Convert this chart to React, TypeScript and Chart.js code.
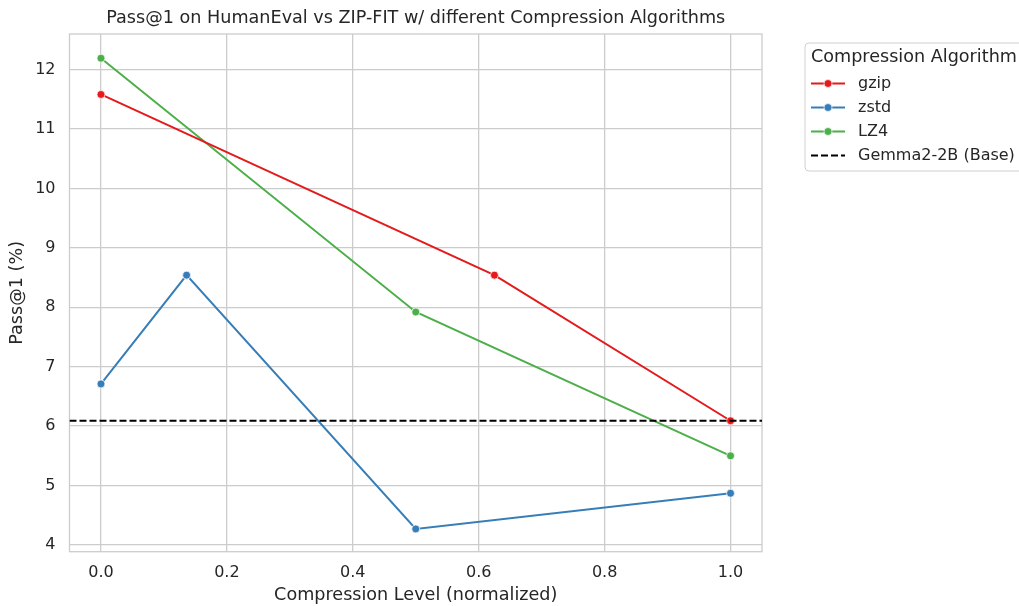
import React, { useEffect, useRef } from "react";
import { Chart, registerables } from "chart.js";

Chart.register(...registerables);

// ---- data ----
const gzipX = [0, 0.625, 1.0];
const gzipY = [11.58, 8.54, 6.09];
const zstdX = [0, 0.136, 0.5, 1.0];
const zstdY = [6.71, 8.54, 4.27, 4.87];
const lz4X = [0, 0.5, 1.0];
const lz4Y = [12.19, 7.92, 5.5];
const baselineValue = 6.09;
const seriesNames = ["gzip", "zstd", "LZ4", "Gemma2-2B (Base)"];
const xTickValues = [0, 0.2, 0.4, 0.6, 0.8, 1.0];
const yTickValues = [4, 5, 6, 7, 8, 9, 10, 11, 12];
const xMin = -0.05;
const xMax = 1.05;
const yMin = 3.887;
const yMax = 12.597;

const TEXT = "#262626";
const GRID = "#cccccc";
const FONT = "'DejaVu Sans', sans-serif";
const colors = ["#e41a1c", "#377eb8", "#4daf4a", "#000000"];

const pts = (xs: number[], ys: number[]) => xs.map((x, i) => ({ x, y: ys[i] }));

const framePlugin = {
  id: "frame",
  beforeDatasetsDraw(chart: any) {
    const { ctx, chartArea: a } = chart;
    ctx.save();
    ctx.strokeStyle = GRID;
    ctx.lineWidth = 1.3;
    ctx.strokeRect(a.left, a.top, a.right - a.left, a.bottom - a.top);
    ctx.restore();
  },
};

const legendPlugin = {
  id: "customLegend",
  afterDraw(chart: any) {
    const { ctx } = chart;
    ctx.save();
    const bx = 805, by = 43, bw = 240, bh = 128, r = 4;
    ctx.beginPath();
    ctx.moveTo(bx + r, by);
    ctx.lineTo(bx + bw - r, by);
    ctx.arcTo(bx + bw, by, bx + bw, by + r, r);
    ctx.lineTo(bx + bw, by + bh - r);
    ctx.arcTo(bx + bw, by + bh, bx + bw - r, by + bh, r);
    ctx.lineTo(bx + r, by + bh);
    ctx.arcTo(bx, by + bh, bx, by + bh - r, r);
    ctx.lineTo(bx, by + r);
    ctx.arcTo(bx, by, bx + r, by, r);
    ctx.closePath();
    ctx.fillStyle = "rgba(255,255,255,0.85)";
    ctx.fill();
    ctx.strokeStyle = "#d0d0d0";
    ctx.lineWidth = 1;
    ctx.stroke();

    ctx.fillStyle = TEXT;
    ctx.textBaseline = "middle";
    ctx.textAlign = "left";
    ctx.font = `17.6px ${FONT}`;
    ctx.fillText("Compression Algorithm", 811, 57);

    const rowY = [83.5, 107.5, 131.5, 155.5];
    ctx.font = `16px ${FONT}`;
    seriesNames.forEach((name, i) => {
      const y = rowY[i];
      ctx.strokeStyle = colors[i];
      ctx.lineWidth = 2;
      if (i === 3) ctx.setLineDash([7, 3]);
      else ctx.setLineDash([]);
      ctx.beginPath();
      ctx.moveTo(811, y);
      ctx.lineTo(845, y);
      ctx.stroke();
      ctx.setLineDash([]);
      if (i < 3) {
        ctx.beginPath();
        ctx.arc(828, y, 4, 0, Math.PI * 2);
        ctx.fillStyle = colors[i];
        ctx.fill();
        ctx.strokeStyle = "#ffffff";
        ctx.lineWidth = 0.75;
        ctx.stroke();
      }
      ctx.fillStyle = TEXT;
      ctx.fillText(name, 858, y);
    });
    ctx.restore();
  },
};

export default function App() {
  const ref = useRef<HTMLCanvasElement>(null);

  useEffect(() => {
    if (!ref.current) return;
    const lineDs = (label: string, data: any[], color: string) => ({
      label,
      data,
      borderColor: color,
      backgroundColor: color,
      borderWidth: 2,
      pointRadius: 4,
      pointBorderColor: "#ffffff",
      pointBorderWidth: 0.75,
      pointBackgroundColor: color,
      tension: 0,
      fill: false,
    });
    const chart = new Chart(ref.current, {
      type: "line",
      data: {
        datasets: [
          {
            label: seriesNames[3],
            data: [
              { x: xMin, y: baselineValue },
              { x: xMax, y: baselineValue },
            ],
            borderColor: colors[3],
            borderWidth: 2,
            borderDash: [7, 3],
            pointRadius: 0,
            fill: false,
            order: 0,
          } as any,
          lineDs(seriesNames[0], pts(gzipX, gzipY), colors[0]),
          lineDs(seriesNames[1], pts(zstdX, zstdY), colors[1]),
          lineDs(seriesNames[2], pts(lz4X, lz4Y), colors[2]),
        ],
      },
      options: {
        animation: false,
        responsive: false,
        devicePixelRatio: 1,
        layout: { padding: { left: 0, top: 0, right: 257, bottom: 0 } },
        plugins: {
          legend: { display: false },
          tooltip: { enabled: false },
          title: {
            display: true,
            fullSize: false,
            text: "Pass@1 on HumanEval vs ZIP-FIT w/ different Compression Algorithms",
            color: TEXT,
            font: { family: FONT, size: 17.6, weight: "normal" },
            padding: { top: 7.4, bottom: 5.5 },
          },
        },
        scales: {
          x: {
            type: "linear",
            min: xMin,
            max: xMax,
            afterBuildTicks: (s: any) => {
              s.ticks = xTickValues.map((v) => ({ value: v }));
            },
            afterFit: (s: any) => {
              s.height = 54.3;
            },
            ticks: {
              callback: (v: any) => Number(v).toFixed(1),
              color: TEXT,
              font: { family: FONT, size: 16 },
              padding: 11.7,
              maxRotation: 0,
            },
            grid: { color: GRID, lineWidth: 1.3, drawTicks: false },
            border: { display: false },
            title: {
              display: true,
              text: "Compression Level (normalized)",
              color: TEXT,
              font: { family: FONT, size: 17.6 },
              padding: { top: 0, bottom: 0 },
            },
          },
          y: {
            type: "linear",
            min: yMin,
            max: yMax,
            afterBuildTicks: (s: any) => {
              s.ticks = yTickValues.map((v) => ({ value: v }));
            },
            afterFit: (s: any) => {
              s.width = 69.5;
            },
            ticks: {
              callback: (v: any) => String(v),
              color: TEXT,
              font: { family: FONT, size: 16 },
              padding: 14,
            },
            grid: { color: GRID, lineWidth: 1.3, drawTicks: false },
            border: { display: false },
            title: {
              display: true,
              text: "Pass@1 (%)",
              color: TEXT,
              font: { family: FONT, size: 17.6 },
              padding: { top: 6.4, bottom: 0 },
            },
          },
        },
      },
      plugins: [framePlugin, legendPlugin],
    });
    return () => chart.destroy();
  }, []);

  return (
    <div style={{ position: "fixed", left: 0, top: 0, width: 1019, height: 606, background: "#fff" }}>
      <canvas ref={ref} width={1019} height={606} style={{ display: "block" }} />
    </div>
  );
}
